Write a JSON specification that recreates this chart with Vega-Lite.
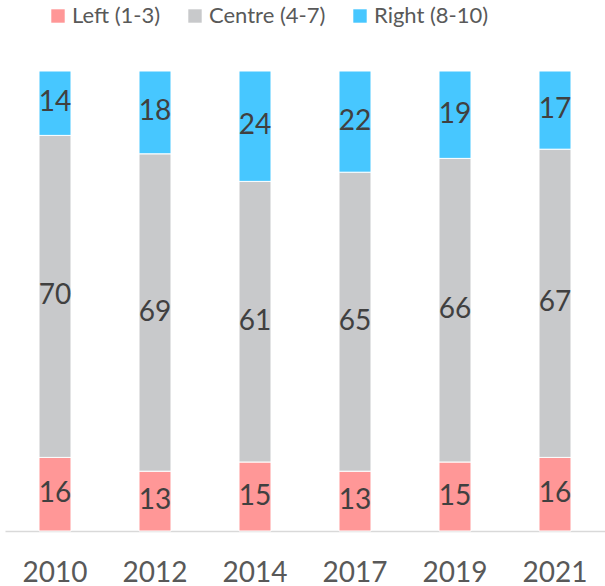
{
  "$schema": "https://vega.github.io/schema/vega-lite/v6.json",
  "width": 600,
  "height": 460,
  "autosize": {"type": "none"},
  "padding": {"left": 5, "top": 71, "right": 0, "bottom": 55},
  "background": "white",
  "config": {"view": {"stroke": null}, "font": "Lato"},
  "data": {
    "values": [
      {"year": "2010", "group": "Left (1-3)", "value": 16},
      {"year": "2010", "group": "Centre (4-7)", "value": 70},
      {"year": "2010", "group": "Right (8-10)", "value": 14},
      {"year": "2012", "group": "Left (1-3)", "value": 13},
      {"year": "2012", "group": "Centre (4-7)", "value": 69},
      {"year": "2012", "group": "Right (8-10)", "value": 18},
      {"year": "2014", "group": "Left (1-3)", "value": 15},
      {"year": "2014", "group": "Centre (4-7)", "value": 61},
      {"year": "2014", "group": "Right (8-10)", "value": 24},
      {"year": "2017", "group": "Left (1-3)", "value": 13},
      {"year": "2017", "group": "Centre (4-7)", "value": 65},
      {"year": "2017", "group": "Right (8-10)", "value": 22},
      {"year": "2019", "group": "Left (1-3)", "value": 15},
      {"year": "2019", "group": "Centre (4-7)", "value": 66},
      {"year": "2019", "group": "Right (8-10)", "value": 19},
      {"year": "2021", "group": "Left (1-3)", "value": 16},
      {"year": "2021", "group": "Centre (4-7)", "value": 67},
      {"year": "2021", "group": "Right (8-10)", "value": 17}
    ]
  },
  "transform": [
    {"calculate": "indexof(['Left (1-3)','Centre (4-7)','Right (8-10)'], datum.group)", "as": "gi"},
    {"stack": "value", "groupby": ["year"], "sort": [{"field": "gi", "order": "ascending"}], "as": ["v0", "v1"]},
    {"calculate": "(datum.v0 + datum.v1) / 2", "as": "vmid"}
  ],
  "encoding": {
    "x": {
      "field": "year", "type": "ordinal", "title": null,
      "scale": {"paddingInner": 0.68, "paddingOuter": 0.34},
      "axis": {
        "labelAngle": 0, "labelFontSize": 28, "labelColor": "#595959",
        "labelPadding": 28, "ticks": false, "domainColor": "#D9D9D9", "domainWidth": 1.5,
        "labelFont": "Lato"
      }
    }
  },
  "layer": [
    {
      "mark": {"type": "bar", "stroke": "white", "strokeWidth": 1},
      "encoding": {
        "y": {"field": "v0", "type": "quantitative", "scale": {"domain": [0, 100], "nice": false}, "axis": null},
        "y2": {"field": "v1"},
        "color": {
          "field": "group", "type": "nominal",
          "scale": {"domain": ["Left (1-3)", "Centre (4-7)", "Right (8-10)"], "range": ["#FF9797", "#C8C9CB", "#47C7FF"]},
          "legend": {
            "title": null, "orient": "none", "direction": "horizontal",
            "legendX": 42, "legendY": -66,
            "symbolType": "square", "symbolSize": 180, "symbolStrokeWidth": 0,
            "labelFontSize": 22, "labelColor": "#595959", "labelOffset": 3,
            "columnPadding": 23, "labelFont": "Lato"
          }
        }
      }
    },
    {
      "mark": {"type": "text", "fontSize": 28, "color": "#404040", "baseline": "middle", "font": "Lato"},
      "encoding": {
        "y": {"field": "vmid", "type": "quantitative"},
        "text": {"field": "value", "type": "quantitative"}
      }
    }
  ]
}
